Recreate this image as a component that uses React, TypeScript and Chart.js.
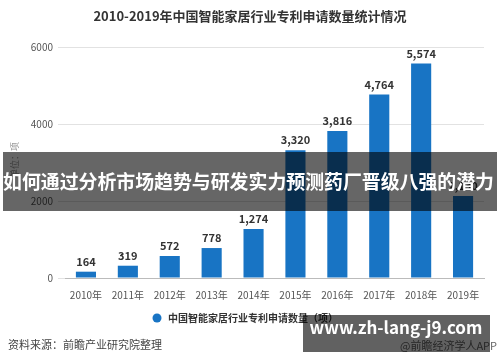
import React, { useEffect, useRef } from "react";
import { Chart, registerables } from "chart.js";

Chart.register(...registerables);

const years = ["2010年", "2011年", "2012年", "2013年", "2014年", "2015年", "2016年", "2017年", "2018年", "2019年"];
const patents = [164, 319, 572, 778, 1274, 3320, 3816, 4764, 5574, 2130];
const yTicks = [0, 2000, 4000, 6000];
const titleText = "2010-2019年中国智能家居行业专利申请数量统计情况";
const legendText = "中国智能家居行业专利申请数量（项）";
const yTitle = "单位：项";
const sourceText = "资料来源：前瞻产业研究院整理";
const brandText = "@前瞻经济学人APP";
const bannerText = "如何通过分析市场趋势与研发实力预测药厂晋级八强的潜力";
const urlText = "www.zh-lang-j9.com";

const BLUE = "#1874c4";
const FONT = "'Noto Sans CJK SC', 'Noto Sans', sans-serif";

const decorPlugin = {
  id: "decor",
  afterDatasetsDraw(chart: any) {
    const ctx = chart.ctx;
    const meta = chart.getDatasetMeta(0);
    ctx.save();
    ctx.fillStyle = "#333";
    ctx.font = `bold 11px ${FONT}`;
    ctx.textAlign = "center";
    ctx.textBaseline = "middle";
    meta.data.forEach((el: any, i: number) => {
      ctx.fillText(patents[i].toLocaleString("en-US"), el.x, el.y - 10);
    });
    ctx.restore();
  },
  afterDraw(chart: any) {
    const ctx = chart.ctx;
    const W = chart.width;
    ctx.save();
    ctx.fillStyle = "#333";
    ctx.font = `bold 13px ${FONT}`;
    ctx.textAlign = "center";
    ctx.textBaseline = "middle";
    ctx.fillText(titleText, W / 2, 16);
    ctx.save();
    ctx.translate(15, 160);
    ctx.rotate(-Math.PI / 2);
    ctx.fillStyle = "#999";
    ctx.font = `9px ${FONT}`;
    ctx.fillText(yTitle, 0, 0);
    ctx.restore();
    ctx.fillStyle = BLUE;
    ctx.beginPath();
    ctx.arc(157, 318, 4.5, 0, Math.PI * 2);
    ctx.fill();
    ctx.fillStyle = "#333";
    ctx.font = `bold 10px ${FONT}`;
    ctx.textAlign = "left";
    ctx.fillText(legendText, 168, 318);
    ctx.fillStyle = "#444";
    ctx.font = `11px ${FONT}`;
    ctx.fillText(sourceText, 8, 345);
    ctx.fillStyle = "#666";
    ctx.textAlign = "right";
    ctx.fillText(brandText, 497, 346);
    ctx.fillStyle = "rgba(0,0,0,0.6)";
    ctx.fillRect(3, 152, 494, 59);
    ctx.fillStyle = "#fff";
    ctx.font = `bold 19px ${FONT}`;
    ctx.textAlign = "center";
    ctx.fillText(bannerText, 248.5, 182, 491);
    ctx.fillStyle = "rgba(0,0,0,0.62)";
    ctx.fillRect(303, 315, 187, 37);
    ctx.fillStyle = "#fff";
    ctx.font = `bold 17px ${FONT}`;
    ctx.fillText(urlText, 396, 328);
    ctx.restore();
  },
};

export default function App() {
  const ref = useRef<HTMLCanvasElement>(null);
  useEffect(() => {
    if (!ref.current) return;
    const chart = new Chart(ref.current, {
      type: "bar",
      data: {
        labels: years,
        datasets: [
          {
            label: legendText,
            data: patents,
            backgroundColor: BLUE,
            barPercentage: 0.48,
            categoryPercentage: 1,
          },
        ],
      },
      options: {
        animation: false,
        responsive: false,
        layout: { padding: { top: 47, right: 16, bottom: 54, left: 0 } },
        plugins: {
          legend: { display: false },
          title: { display: false },
          tooltip: { enabled: false },
        },
        scales: {
          x: {
            grid: { display: false },
            border: { display: true, color: "#bbb" },
            ticks: { color: "#555", font: { size: 10, family: FONT }, padding: 3 },
            afterFit: (s: any) => {
              s.height = 30;
            },
          },
          y: {
            min: 0,
            max: 6000,
            afterBuildTicks: (s: any) => {
              s.ticks = yTicks.map((v) => ({ value: v }));
            },
            grid: { color: "#e2e2e2", tickLength: 7, tickColor: "#e2e2e2" },
            border: { display: false },
            ticks: {
              color: "#555",
              font: { size: 10, family: FONT },
              padding: 5,
              callback: (v: any) => String(v),
            },
            afterFit: (s: any) => {
              s.width = 65;
            },
          },
        },
      },
      plugins: [decorPlugin],
    });
    return () => chart.destroy();
  }, []);
  return (
    <div style={{ position: "fixed", left: 0, top: 0, width: 500, height: 362, background: "#fff" }}>
      <canvas ref={ref} width={500} height={362} style={{ width: 500, height: 362 }} />
    </div>
  );
}
